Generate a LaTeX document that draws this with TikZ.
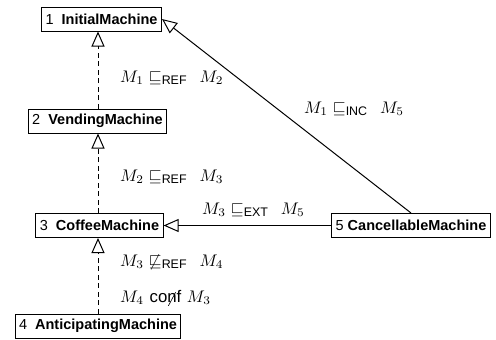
\documentclass[tikz,border=0pt]{standalone}
\usepackage{amssymb}
\usepackage{fontspec}
\newfontfamily\hv{Liberation Sans}
\usetikzlibrary{arrows.meta}
\newcommand{\rsub}[1]{_{\mbox{\hv\fontsize{7.4pt}{8pt}\selectfont #1}}}
\newcommand{\lab}[1]{\scalebox{1.68}{#1}}
\newcommand{\slashn}{\ooalign{n\cr\hidewidth\raisebox{-0.45ex}{\rotatebox{62}{\rule{1.75ex}{0.07ex}}}\hidewidth}}
\begin{document}
\begin{tikzpicture}[x=1pt,y=-1pt,
  mbox/.style={draw, line width=1pt, inner xsep=4pt, inner ysep=0pt, minimum height=24pt,
    font=\hv\fontsize{14.5pt}{16pt}\selectfont},
  gen/.style={line width=1pt, -{Triangle[open,length=15pt,width=13pt,line width=1pt]}},
  dep/.style={gen, dash pattern=on 5pt off 3.5pt},
  lbl/.style={anchor=base west, inner sep=0pt}]
\useasboundingbox (0,0) rectangle (496,340);
\node[mbox] (n1) at (101.5,19) {1\ \ \textbf{InitialMachine}};
\node[mbox] (n2) at (97.5,121) {2\ \ \textbf{VendingMachine}};
\node[mbox] (n3) at (99.5,225.5) {3\ \ \textbf{CoffeeMachine}};
\node[mbox] (n4) at (98,326) {4\ \ \textbf{AnticipatingMachine}};
\node[mbox] (n5) at (411,225.5) {5 \textbf{CancellableMachine}};
\draw[dep] (n2.north -| 98,0) -- (n1.south -| 98,0);
\draw[dep] (n3.north -| 98,0) -- (n2.south -| 98,0);
\draw[dep] (n4.north -| 98,0) -- (n3.south -| 98,0);
\draw[gen] (n5.west) -- (n3.east);
\draw[gen] (n5.north) -- (n1.east);
\node[lbl] (l12) at (120,82) {\lab{$M_1 \sqsubseteq\rsub{REF}\;\, M_2$}};
\node[lbl] (l23) at (120,181) {\lab{$M_2 \sqsubseteq\rsub{REF}\;\, M_3$}};
\node[lbl] (l35) at (202,214) {\lab{$M_3 \sqsubseteq\rsub{EXT}\;\, M_5$}};
\node[lbl] (l15) at (304,113) {\lab{$M_1 \sqsubseteq\rsub{INC}\;\, M_5$}};
\node[lbl] (l34) at (120,266) {\lab{$M_3 \not\sqsubseteq\rsub{REF}\;\, M_4$}};
\node[lbl] (l43) at (120,302) {\lab{$M_4$ {\hv\fontsize{10pt}{11pt}\selectfont co\slashn f} $M_3$}};
\end{tikzpicture}
\end{document}
